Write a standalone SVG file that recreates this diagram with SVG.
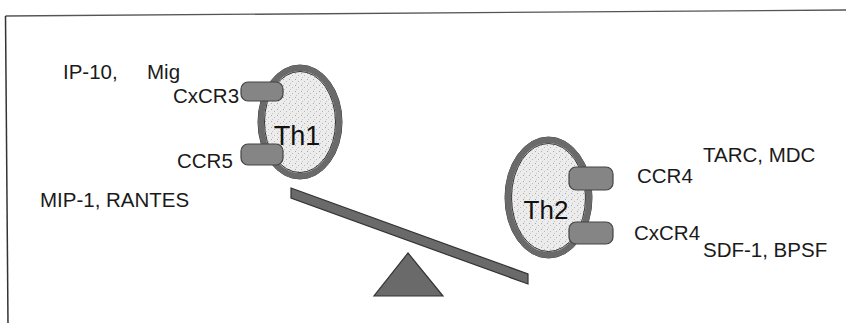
<svg xmlns="http://www.w3.org/2000/svg" width="846" height="323" viewBox="0 0 846 323">
  <defs>
    <pattern id="speck" width="6" height="6" patternUnits="userSpaceOnUse">
      <rect width="6" height="6" fill="#ececec"/>
      <rect x="1" y="1" width="1" height="1" fill="#a8a8a8"/>
      <rect x="4" y="3" width="1" height="1" fill="#b8b8b8"/>
      <rect x="2" y="5" width="1" height="1" fill="#c4c4c4"/>
    </pattern>
    <style>
      .lbl { font-family: "Liberation Sans", Arial, sans-serif; font-size: 20.5px; fill: #1a1a1a; }
      .cell { font-family: "Liberation Sans", Arial, sans-serif; fill: #111; text-anchor: middle; }
      .body { fill: url(#speck); stroke: #333; stroke-width: 1; }
      .ring { fill: none; stroke: #6a6a6a; stroke-width: 6; }
      .edge { fill: none; stroke: #333; stroke-width: 1; }
      .rec { fill: #858585; stroke: #444; stroke-width: 1.2; }
      .solid { fill: #6a6a6a; stroke: #333; stroke-width: 1.2; }
    </style>
  </defs>
  <rect width="846" height="323" fill="#ffffff"/>

  <g id="frame">
    <line x1="5.5" y1="16" x2="846" y2="10" stroke="#555" stroke-width="1.3"/>
    <line x1="5.5" y1="16" x2="8" y2="323" stroke="#333" stroke-width="1.5"/>
  </g>

  <g id="seesaw">
    <polygon class="solid" points="291,188 528,274 528,284 291,198"/>
    <polygon class="solid" points="408,253 443,296 374,296"/>
  </g>

  <g id="th1">
    <ellipse class="body" cx="300" cy="122" rx="42" ry="57"/>
    <ellipse class="ring" cx="300" cy="122" rx="39" ry="54"/>
    <ellipse class="edge" cx="300" cy="122" rx="35.5" ry="50.5"/>
    <rect class="rec" x="241" y="82" width="42" height="19" rx="7"/>
    <rect class="rec" x="241" y="144" width="42" height="21" rx="7"/>
    <text class="cell" x="297" y="145" font-size="27">Th1</text>
  </g>

  <g id="th2">
    <ellipse class="body" cx="548.5" cy="197.5" rx="43.5" ry="60.5"/>
    <ellipse class="ring" cx="548.5" cy="197.5" rx="40.5" ry="57.5"/>
    <ellipse class="edge" cx="548.5" cy="197.5" rx="37" ry="54"/>
    <rect class="rec" x="569" y="167" width="44" height="23" rx="7"/>
    <rect class="rec" x="569" y="222" width="44" height="22" rx="7"/>
    <text class="cell" x="546" y="219" font-size="26">Th2</text>
  </g>

  <g id="labels-th1">
    <text class="lbl" x="63" y="79">IP-10,</text>
    <text class="lbl" x="147" y="79">Mig</text>
    <text class="lbl" x="173" y="103">CxCR3</text>
    <text class="lbl" x="177" y="168">CCR5</text>
    <text class="lbl" x="40" y="207">MIP-1, RANTES</text>
  </g>

  <g id="labels-th2">
    <text class="lbl" x="703" y="162">TARC, MDC</text>
    <text class="lbl" x="637" y="183">CCR4</text>
    <text class="lbl" x="634" y="240">CxCR4</text>
    <text class="lbl" x="703" y="257">SDF-1, BPSF</text>
  </g>

  <g id="connectors"/>
</svg>
